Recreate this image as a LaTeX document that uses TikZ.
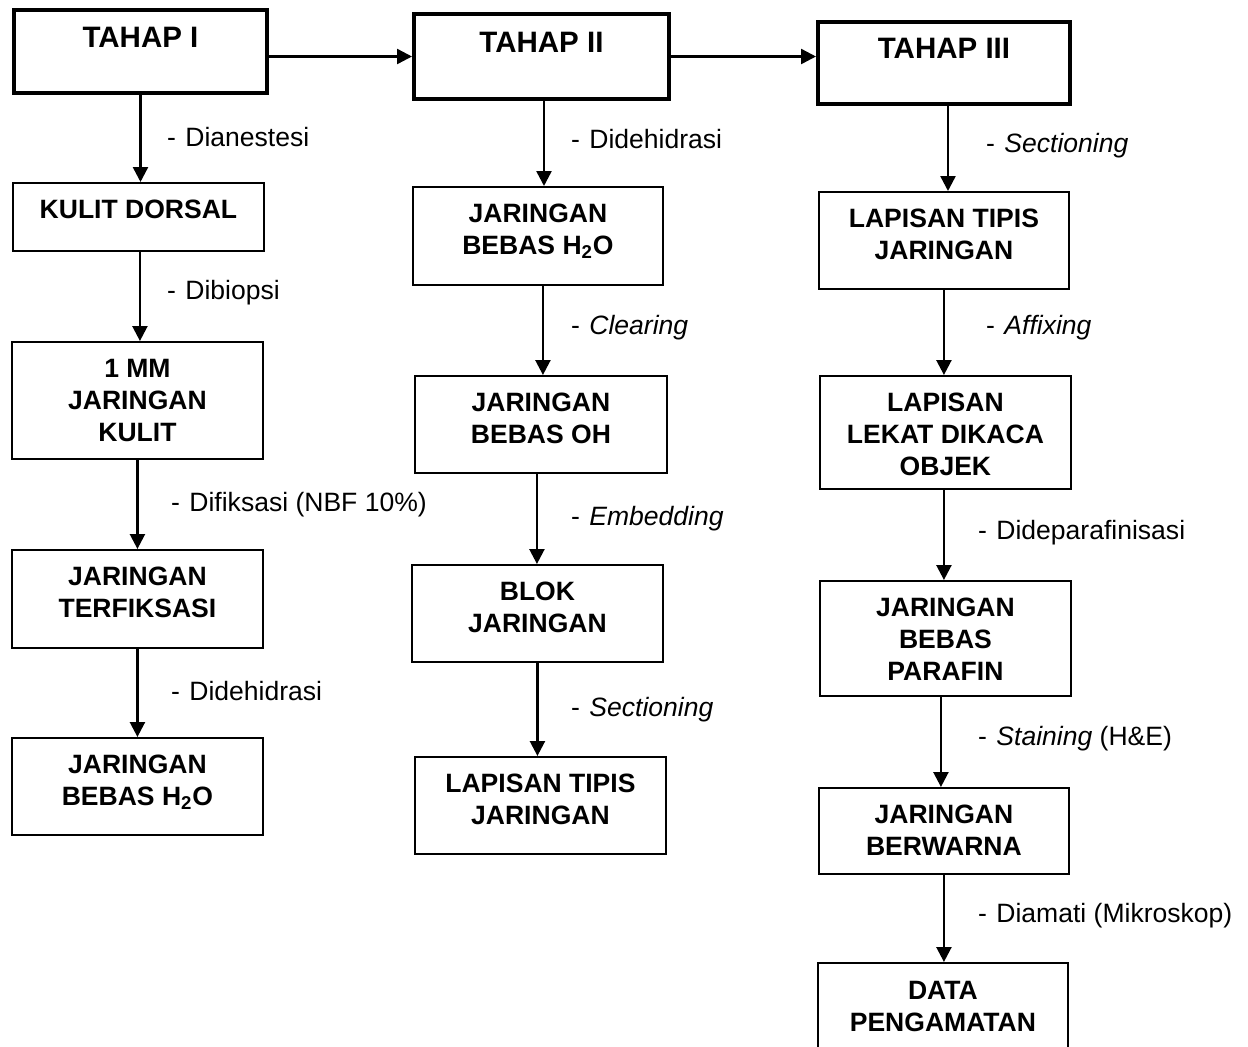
\documentclass[tikz,border=0pt]{standalone}
\usepackage{fontspec}
\setmainfont{Liberation Sans}
\usetikzlibrary{arrows.meta}
\tikzset{
  box/.style={draw, line width=1.1pt, inner sep=0pt, anchor=north west},
  tbox/.style={box, line width=2.3pt},
  btxt/.style={anchor=north, inner sep=0pt, align=center, font=\bfseries\fontsize{15.1}{18.1}\selectfont},
  ttxt/.style={btxt, font=\bfseries\fontsize{16.8}{19}\selectfont},
  lbl/.style={anchor=base west, inner sep=0pt, font=\fontsize{15.1}{18}\selectfont},
  arr/.style={line width=1.4pt, -{Triangle[width=8.5pt,length=8.5pt]}}
}
\newcommand\dsh{-\hspace{0.36em}}
\begin{document}
\begin{tikzpicture}[x=0.02cm, y=-0.02cm]
\clip (0,0) rectangle (1248,1047);
\fill[white] (0,0) rectangle (1248,1047);
% TAHAP boxes
\node[tbox, minimum width=5.06cm, minimum height=1.66cm] (t1) at (12,8) {};
\node[ttxt] (t1t) at ([yshift=-0.38cm]t1.north) {TAHAP I};
\node[tbox, minimum width=5.10cm, minimum height=1.70cm] (t2) at (412,12) {};
\node[ttxt] (t2t) at ([yshift=-0.40cm]t2.north) {TAHAP II};
\node[tbox, minimum width=5.04cm, minimum height=1.64cm] (t3) at (816,20) {};
\node[ttxt] (t3t) at ([yshift=-0.36cm]t3.north) {TAHAP III};
% column 1
\node[box, minimum width=5.02cm, minimum height=1.36cm] (a1) at (12,182) {};
\node[btxt] (a1t) at ([yshift=-0.36cm]a1.north) {KULIT DORSAL};
\node[box, minimum width=5.02cm, minimum height=2.34cm] (a2) at (11,341) {};
\node[btxt] (a2t) at ([yshift=-0.36cm]a2.north) {1 MM\\JARINGAN\\KULIT};
\node[box, minimum width=5.02cm, minimum height=1.96cm] (a3) at (11,549) {};
\node[btxt] (a3t) at ([yshift=-0.36cm]a3.north) {JARINGAN\\TERFIKSASI};
\node[box, minimum width=5.02cm, minimum height=1.94cm] (a4) at (11,737) {};
\node[btxt] (a4t) at ([yshift=-0.36cm]a4.north) {JARINGAN\\BEBAS H\textsubscript{2}O};
% column 2
\node[box, minimum width=5.00cm, minimum height=1.96cm] (b1) at (412,186) {};
\node[btxt] (b1t) at ([yshift=-0.36cm]b1.north) {JARINGAN\\BEBAS H\textsubscript{2}O};
\node[box, minimum width=5.04cm, minimum height=1.94cm] (b2) at (414,375) {};
\node[btxt] (b2t) at ([yshift=-0.36cm]b2.north) {JARINGAN\\BEBAS OH};
\node[box, minimum width=5.02cm, minimum height=1.94cm] (b3) at (411,564) {};
\node[btxt] (b3t) at ([yshift=-0.36cm]b3.north) {BLOK\\JARINGAN};
\node[box, minimum width=5.02cm, minimum height=1.94cm] (b4) at (414,756) {};
\node[btxt] (b4t) at ([yshift=-0.36cm]b4.north) {LAPISAN TIPIS\\JARINGAN};
% column 3
\node[box, minimum width=5.00cm, minimum height=1.94cm] (c1) at (818,191) {};
\node[btxt] (c1t) at ([yshift=-0.36cm]c1.north) {LAPISAN TIPIS\\JARINGAN};
\node[box, minimum width=5.02cm, minimum height=2.26cm] (c2) at (819,375) {};
\node[btxt] (c2t) at ([yshift=-0.36cm]c2.north) {LAPISAN\\LEKAT DIKACA\\OBJEK};
\node[box, minimum width=5.02cm, minimum height=2.30cm] (c3) at (819,580) {};
\node[btxt] (c3t) at ([yshift=-0.36cm]c3.north) {JARINGAN\\BEBAS\\PARAFIN};
\node[box, minimum width=5.00cm, minimum height=1.72cm] (c4) at (818,787) {};
\node[btxt] (c4t) at ([yshift=-0.36cm]c4.north) {JARINGAN\\BERWARNA};
\node[box, minimum width=5.00cm, minimum height=2.00cm] (c5) at (817,962) {};
\node[btxt] (c5t) at ([yshift=-0.38cm]c5.north) {DATA\\PENGAMATAN};
% horizontal arrows
\draw[arr] (t1.east |- t2.west) -- (t2.west);
\draw[arr] (t2.east) -- (t2.east -| t3.west);
% column 1 arrows
\draw[arr] (t1.south) -- (t1.south |- a1.north);
\draw[arr] ([xshift=0.03cm]a1.south) -- ([xshift=0.03cm]a1.south |- a2.north);
\draw[arr] (a2.south) -- (a2.south |- a3.north);
\draw[arr] (a3.south) -- (a3.south |- a4.north);
% column 2 arrows
\draw[arr] ([xshift=0.05cm]t2.south) -- ([xshift=0.05cm]t2.south |- b1.north);
\draw[arr] ([xshift=0.1cm]b1.south) -- ([xshift=0.1cm]b1.south |- b2.north);
\draw[arr] ([xshift=-0.08cm]b2.south) -- ([xshift=-0.08cm]b2.south |- b3.north);
\draw[arr] (b3.south) -- (b3.south |- b4.north);
% column 3 arrows
\draw[arr] ([xshift=0.08cm]t3.south) -- ([xshift=0.08cm]t3.south |- c1.north);
\draw[arr] (c1.south) -- (c1.south |- c2.north);
\draw[arr] ([xshift=-0.03cm]c2.south) -- ([xshift=-0.03cm]c2.south |- c3.north);
\draw[arr] ([xshift=-0.09cm]c3.south) -- ([xshift=-0.09cm]c3.south |- c4.north);
\draw[arr] (c4.south) -- (c4.south |- c5.north);
% labels
\node[lbl] (l1) at (166.7,147) {\dsh Dianestesi};
\node[lbl] (l2) at (166.7,300) {\dsh Dibiopsi};
\node[lbl] (l3) at (170.7,511.7) {\dsh Difiksasi (NBF 10\%)};
\node[lbl] (l4) at (170.7,700) {\dsh Didehidrasi};
\node[lbl] (l5) at (570.7,148.3) {\dsh Didehidrasi};
\node[lbl] (l6) at (570.7,335) {\dsh \textit{Clearing}};
\node[lbl] (l7) at (570.7,525) {\dsh \textit{Embedding}};
\node[lbl] (l8) at (570.7,716) {\dsh \textit{Sectioning}};
\node[lbl] (l9) at (985.7,152.3) {\dsh \textit{Sectioning}};
\node[lbl] (l10) at (985.7,335) {\dsh \textit{Affixing}};
\node[lbl] (l11) at (977.7,539.3) {\dsh Dideparafinisasi};
\node[lbl] (l12) at (977.7,745) {\dsh \textit{Staining} (H\&E)};
\node[lbl] (l13) at (977.7,922.7) {\dsh Diamati (Mikroskop)};
\end{tikzpicture}
\end{document}
